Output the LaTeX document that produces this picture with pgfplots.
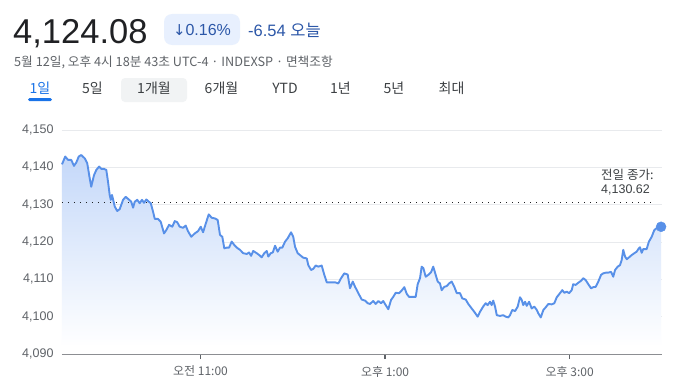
\documentclass[border=0pt]{standalone}
\usepackage{pgfplots}
\pgfplotsset{compat=1.18}
\usepackage{pgfplotstable}
\usepackage{fontspec}
\setmainfont{Liberation Sans}
\newfontfamily\kr{Noto Sans CJK KR}
\newfontfamily\dv{DejaVu Sans}
\definecolor{linec}{RGB}{88,144,232}
\definecolor{fillc}{RGB}{196,216,249}
\definecolor{gridc}{RGB}{232,234,237}
\definecolor{axisc}{RGB}{140,142,146}
\definecolor{tickc}{RGB}{95,99,104}
\definecolor{labc}{RGB}{95,99,104}
\definecolor{darkt}{RGB}{32,33,36}
\definecolor{midt}{RGB}{60,64,67}
\definecolor{bluet}{RGB}{44,87,168}
\definecolor{badge}{RGB}{232,240,254}
\definecolor{tabblue}{RGB}{26,115,232}
\definecolor{tabgrey}{RGB}{241,243,244}

\pgfplotstableread{
x y
0 4140.8
2.1 4142.9
3.9 4142.0
6.0 4142.0
7.8 4140.4
9.3 4141.3
10.9 4142.9
12.5 4143.3
14.8 4142.4
16.4 4141.1
18.0 4137.1
19.0 4134.8
20.8 4137.9
22.3 4139.3
24.1 4140.2
25.5 4139.6
27.3 4139.6
28.8 4139.3
29.9 4136.2
31.0 4132.6
31.7 4131.3
32.5 4132.6
34.3 4129.5
35.9 4128.3
37.5 4128.8
39.7 4131.3
41.4 4132.1
43.4 4131.4
45.0 4130.8
46.2 4129.2
47.3 4130.8
48.9 4131.3
50.5 4130.4
52.0 4131.3
53.3 4130.5
54.8 4131.4
56.4 4130.8
57.7 4130.4
59.2 4128.1
60.3 4126.2
62.4 4126.2
64.2 4125.4
66.3 4122.3
67.8 4123.2
69.6 4124.6
71.7 4124.1
73.3 4125.6
74.9 4125.3
76.5 4124.1
78.7 4123.8
80.4 4124.4
81.9 4122.9
84.0 4121.4
86.3 4122.3
88.4 4122.9
90.2 4124.1
91.7 4122.6
93.8 4125.4
95.4 4127.4
97.3 4126.5
99.5 4126.3
101.2 4125.9
102.7 4121.9
104.2 4121.4
105.5 4118.3
107.1 4118.5
108.6 4118.5
110.3 4120.1
112.0 4119.2
113.6 4118.5
115.7 4117.9
117.8 4117.0
120.1 4116.8
121.6 4117.2
122.9 4116.3
124.3 4117.6
126.6 4117.0
128.2 4116.5
129.8 4115.9
131.5 4117.0
133.1 4117.6
134.1 4116.1
135.7 4117.0
137.0 4117.2
138.5 4119.0
140.2 4117.4
141.7 4118.5
143.2 4118.5
145.0 4120.1
146.7 4121.0
148.9 4122.6
150.3 4121.4
151.5 4118.7
153.2 4117.0
154.7 4116.5
156.8 4115.8
159.1 4115.6
160.1 4113.8
161.9 4112.5
163.3 4112.8
164.9 4113.7
166.6 4113.4
168.8 4113.7
170.5 4111.2
172.1 4109.2
174.2 4109.2
177.5 4109.2
179.6 4108.9
181.4 4110.3
183.5 4111.6
185.7 4111.3
187.2 4107.6
189.0 4109.4
190.5 4108.0
192.6 4106.3
194.8 4104.6
197.0 4104.3
198.7 4103.6
200.2 4103.4
202.3 4104.2
203.9 4103.4
205.6 4104.2
207.4 4103.6
208.8 4104.2
210.4 4103.1
212.1 4102.0
213.9 4104.5
215.3 4105.3
216.9 4106.4
219.1 4106.3
220.8 4107.0
222.5 4107.9
224.1 4106.1
225.6 4105.3
228.3 4105.3
229.9 4105.3
231.2 4108.7
232.7 4110.3
233.8 4113.4
234.9 4113.0
236.4 4110.7
238.1 4111.2
239.9 4111.9
241.3 4113.4
242.9 4111.2
244.2 4109.4
245.7 4108.9
246.8 4107.1
248.5 4108.0
250.1 4108.2
251.6 4108.9
253.3 4109.4
255.0 4108.0
256.6 4106.3
258.7 4106.3
260.2 4104.9
262.4 4104.6
264.1 4103.4
266.3 4102.2
268.0 4101.3
270.2 4100.0
271.7 4101.3
273.9 4102.8
275.4 4103.6
276.7 4103.1
278.2 4104.0
279.3 4103.1
280.3 4104.3
281.5 4102.7
282.6 4100.4
284.7 4100.2
286.8 4100.4
288.4 4100.0
290.1 4099.8
291.2 4100.4
292.7 4101.8
294.5 4101.5
296.2 4102.7
297.7 4105.2
298.8 4104.5
299.8 4103.1
301.0 4104.0
302.1 4102.9
303.6 4104.0
305.3 4102.2
307.0 4102.7
308.6 4101.8
309.6 4100.9
311.2 4099.8
312.9 4101.8
314.4 4102.5
316.1 4103.4
318.3 4103.3
320.0 4103.6
321.6 4105.2
323.7 4106.3
325.2 4107.1
326.5 4106.4
328.1 4106.7
329.6 4106.3
331.3 4107.1
332.3 4108.7
333.9 4108.5
335.6 4109.1
337.4 4109.6
338.8 4110.3
340.4 4109.8
342.1 4108.7
343.9 4107.6
345.3 4107.9
346.9 4108.0
348.6 4109.4
350.4 4111.2
351.8 4111.6
353.6 4111.8
355.1 4111.8
356.9 4112.0
358.3 4110.7
359.5 4112.5
361.2 4113.4
362.7 4113.8
363.8 4115.2
364.8 4117.9
366.0 4116.1
367.1 4115.4
368.6 4115.9
370.3 4116.5
372.0 4117.0
373.5 4117.4
374.6 4118.1
375.7 4118.6
376.8 4117.1
377.8 4118.1
380.0 4118.1
381.5 4120.1
383.3 4121.4
385.0 4123.2
386.5 4123.7
388.0 4123.9
389.4 4124.08
}\spx

\begin{document}
\begin{tikzpicture}[x=1pt,y=1pt]
\useasboundingbox (0,0) rectangle (678,384);
\fill[white] (0,0) rectangle (678,384);

% header
\node[anchor=base west, inner sep=0pt, text=darkt, font=\fontsize{34.5}{38}\selectfont] at (13,341) {4,124.08};
\fill[badge, rounded corners=8pt] (164,339) rectangle (240,370);
\node[anchor=center, inner sep=0pt, text=bluet, font=\fontsize{16}{18}\selectfont] at (202,354) {{\dv\fontsize{15}{18}\selectfont ↓}0.16\%};
\node[anchor=west, inner sep=0pt, text=bluet, font=\fontsize{16.5}{18}\selectfont] at (248,354) {-6.54 {\kr 오늘}};
\node[anchor=west, inner sep=0pt, text=labc, font=\kr\fontsize{12.7}{14}\selectfont] at (14,322) {5월 12일, 오후 4시 18분 43초 UTC-4 · INDEXSP · 면책조항};

% tabs
\fill[tabgrey, rounded corners=4pt] (121,282) rectangle (187,306);
\fill[tabblue, rounded corners=1.5pt] (28,283) rectangle (52,286);
\begin{scope}[every node/.style={anchor=center, inner sep=0pt, font=\kr\fontsize{14}{16}\selectfont, text=midt}]
\node[text=tabblue] at (40,296) {1일};
\node at (92.5,296) {5일};
\node at (154,296) {1개월};
\node at (221.5,296) {6개월};
\node at (285,296) {YTD};
\node at (340.5,296) {1년};
\node at (394,296) {5년};
\node at (451.5,296) {최대};
\end{scope}

\begin{axis}[
  at={(62pt,30pt)}, anchor=south west,
  scale only axis, width=600pt, height=224pt,
  xmin=0, xmax=390, ymin=4090, ymax=4150,
  axis line style={draw=none},
  ytick={4090,4100,4110,4120,4130,4140,4150},
  ymajorgrids, major grid style={gridc, line width=1pt},
  scaled y ticks=false,
  /pgf/number format/1000 sep={,},
  /pgf/number format/assume math mode=true,
  yticklabel style={font=\fontsize{12.5}{14}\selectfont, text=labc},
  ytick style={draw=none},
  ytick pos=left, xtick pos=bottom,
  tick align=outside, major tick length=5pt,
  xtick={90,210,330},
  xticklabels={{오전 11:00},{오후 1:00},{오후 3:00}},
  xticklabel style={font=\kr\fontsize{12}{14}\selectfont, text=labc, yshift=-3.5pt},
  xtick style={draw=tickc, line width=1.3pt},
  clip=false,
]
\addplot[draw=none, top color=fillc, bottom color=white] table[x=x,y=y] {\spx} -- (axis cs:389.4,4092) -- (axis cs:0,4092) -- cycle;
\draw[axisc, line width=1pt] (rel axis cs:0,0) -- (rel axis cs:1,0);
\addplot[darkt, line width=0.9pt, dash pattern=on 0.9pt off 5.1pt] coordinates {(0,4130.62) (386,4130.62)};
\addplot[linec, line width=1.9pt, line join=round] table[x=x,y=y] {\spx};
\addplot[only marks, mark=*, mark size=5pt, color=linec] coordinates {(389.4,4124.08)};
\end{axis}

\node[anchor=west, inner sep=0pt, text=midt, font=\kr\fontsize{12.5}{14}\selectfont] at (601,209) {전일 종가:};
\node[anchor=west, inner sep=0pt, text=midt, font=\fontsize{12.5}{14}\selectfont] at (601,194) {4,130.62};
\end{tikzpicture}
\end{document}
